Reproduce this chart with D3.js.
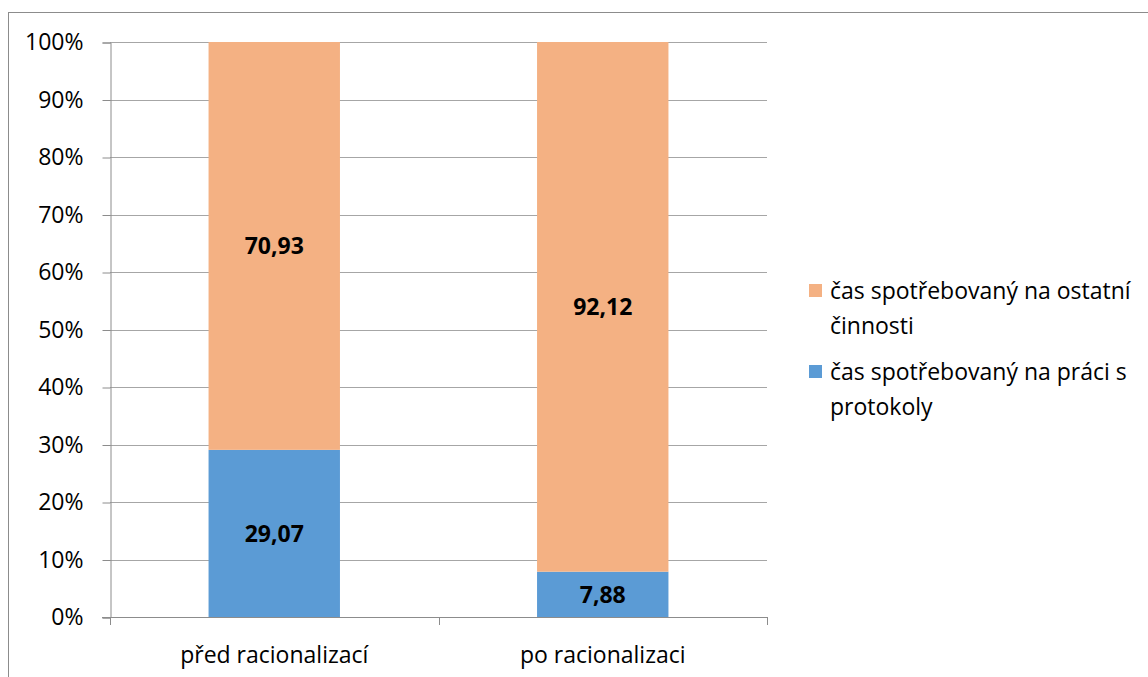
<!DOCTYPE html>
<html>
<head>
<meta charset="utf-8">
<script src="https://cdn.jsdelivr.net/npm/d3@7"></script>
<style>
  html, body { margin: 0; padding: 0; background: #fff; }
  svg { display: block; font-family: "Open Sans", "Noto Sans", sans-serif; }
</style>
</head>
<body>
<svg id="chart" width="1148" height="677"></svg>
<script>
// Share of working time, before and after rationalisation (percent)
const categories = ["před racionalizací", "po racionalizaci"];
const seriesNames = ["čas spotřebovaný na práci s protokoly", "čas spotřebovaný na ostatní činnosti"];
const protocolWork = [29.07, 7.88];
const otherWork = [70.93, 92.12];
const tickLabels = ["0%", "10%", "20%", "30%", "40%", "50%", "60%", "70%", "80%", "90%", "100%"];

const colors = ["#5B9BD5", "#F4B183"];
const legendLines = [["čas spotřebovaný na práci s", "protokoly"], ["čas spotřebovaný na ostatní", "činnosti"]];
const fontSize = 23;

const svg = d3.select("#chart");

// outer chart frame
svg.append("rect")
  .attr("x", 8.5).attr("y", 12.5)
  .attr("width", 1160).attr("height", 700)
  .attr("fill", "none").attr("stroke", "#8c8c8c").attr("stroke-width", 1);

const plot = { left: 110, right: 767, top: 42, bottom: 617 };

const x = d3.scaleBand().domain(categories)
  .range([plot.left, plot.right]).paddingInner(0.6).paddingOuter(0.3);
const xBand = d3.scaleBand().domain(categories).range([plot.left, plot.right]);
const y = d3.scaleLinear().domain([0, 100]).range([plot.bottom, plot.top]);

// horizontal gridlines
svg.append("g").selectAll("line")
  .data(d3.range(10, 101, 10))
  .join("line")
  .attr("x1", plot.left).attr("x2", plot.right)
  .attr("y1", d => Math.round(y(d)) + 0.5).attr("y2", d => Math.round(y(d)) + 0.5)
  .attr("stroke", "#a6a6a6").attr("stroke-width", 1);

// stacked data
const rows = categories.map((c, i) => ({ cat: c, protocol: protocolWork[i], other: otherWork[i] }));
const stack = d3.stack().keys(["protocol", "other"])(rows);

const layers = svg.append("g").selectAll("g")
  .data(stack).join("g").attr("fill", (d, i) => colors[i]);

layers.selectAll("rect")
  .data(d => d)
  .join("rect")
  .attr("x", d => x(d.data.cat))
  .attr("width", x.bandwidth())
  .attr("y", d => y(d[1]))
  .attr("height", d => y(d[0]) - y(d[1]));

// value labels in the middle of each segment
layers.selectAll("text")
  .data((d, i) => d.map(v => ({ v, key: d.key })))
  .join("text")
  .attr("x", d => x(d.v.data.cat) + x.bandwidth() / 2)
  .attr("y", d => y((d.v[0] + d.v[1]) / 2))
  .attr("dy", "0.36em")
  .attr("text-anchor", "middle")
  .attr("fill", "#000")
  .attr("font-weight", "bold")
  .attr("font-size", fontSize)
  .text(d => d3.format(".2f")(d.v.data[d.key]).replace(".", ","));

// y axis
const yAxis = d3.axisLeft(y).tickValues(d3.range(0, 101, 10))
  .tickFormat((d, i) => tickLabels[i]).tickSize(8).tickPadding(19);
const gy = svg.append("g").attr("transform", `translate(${plot.left + 0.5},0.5)`).call(yAxis);
gy.select(".domain").attr("stroke", "#8c8c8c");
gy.selectAll(".tick line").attr("stroke", "#8c8c8c");
gy.selectAll(".tick text").attr("font-size", fontSize).attr("fill", "#000")
  .attr("font-family", "'Open Sans', sans-serif");

// x axis baseline with category separators
svg.append("line")
  .attr("x1", plot.left - 8).attr("x2", plot.right)
  .attr("y1", plot.bottom + 0.5).attr("y2", plot.bottom + 0.5)
  .attr("stroke", "#8c8c8c");
const sepPositions = categories.map(c => xBand(c)).concat([xBand(categories[categories.length - 1]) + xBand.bandwidth()]);
svg.append("g").selectAll("line").data(sepPositions).join("line")
  .attr("x1", d => Math.round(d) + 0.5).attr("x2", d => Math.round(d) + 0.5)
  .attr("y1", plot.bottom).attr("y2", plot.bottom + 8)
  .attr("stroke", "#8c8c8c");
svg.append("g").selectAll("text").data(categories).join("text")
  .attr("x", d => xBand(d) + xBand.bandwidth() / 2)
  .attr("y", 663)
  .attr("text-anchor", "middle")
  .attr("font-size", fontSize)
  .text(d => d);

// legend (top entry is the upper stack layer)
const legendOrder = [1, 0];
const lg = svg.append("g").selectAll("g").data(legendOrder).join("g")
  .attr("transform", (d, i) => `translate(809,${284 + i * 81})`);
lg.append("rect").attr("width", 13).attr("height", 13).attr("fill", d => colors[d]);
lg.append("text")
  .attr("x", 21).attr("y", 15)
  .attr("font-size", fontSize)
  .selectAll("tspan").data(d => legendLines[d]).join("tspan")
  .attr("x", 21).attr("dy", (d, i) => i === 0 ? 0 : 35)
  .text(d => d);
</script>
</body>
</html>
